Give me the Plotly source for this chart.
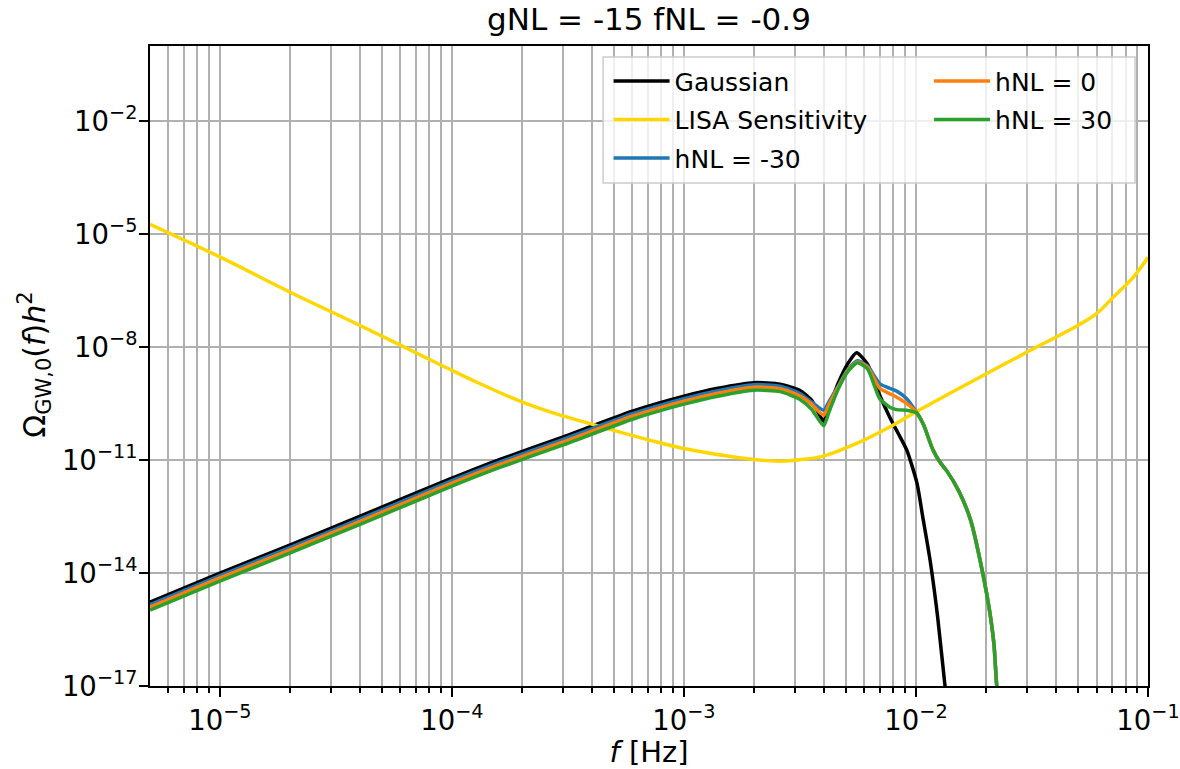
import math
import plotly.graph_objects as go

# ---------------- data ----------------
freq_gauss = [5e-6, 1e-5, 2e-5, 4e-5, 1e-4, 1.6e-4, 3e-4, 6e-4, 1e-3, 1.4e-3,
              2e-3, 2.6e-3, 3.15e-3, 3.55e-3, 4.0e-3, 4.23e-3, 4.62e-3, 5.1e-3,
              5.55e-3, 6.19e-3, 6.98e-3, 7.71e-3, 8.4e-3, 9.13e-3, 1.01e-2,
              1.07e-2, 1.15e-2, 1.24e-2, 1.33e-2, 1.37e-2]
omega_gauss = [1.7e-15, 1.0e-14, 5.5e-14, 3.2e-13, 3.3e-12, 1.03e-11, 4.1e-11,
               2.0e-10, 5.0e-10, 8.1e-10, 1.14e-9, 1.04e-9, 7.2e-10, 3.9e-10,
               1.08e-10, 2.5e-10, 1.1e-9, 3.76e-9, 7.1e-9, 3.5e-9, 5.3e-10,
               1.38e-10, 5.0e-11, 1.84e-11, 2.45e-12, 3.06e-13, 2.21e-14,
               6.8e-16, 1.2e-17, 3e-18]

freq_lisa = [5e-6, 1e-5, 2e-5, 4e-5, 9e-5, 1.33e-4, 2e-4, 2.8e-4, 4e-4, 7.1e-4,
             1e-3, 2e-3, 2.59e-3, 3.16e-3, 4e-3, 5.55e-3, 7.7e-3, 1e-2, 2e-2,
             3e-2, 5e-2, 6e-2, 7.1e-2, 8.65e-2, 1e-1]
omega_lisa = [1.84e-5, 2.5e-6, 2.93e-7, 3.83e-8, 3.32e-9, 1.05e-9, 3.52e-10,
              1.71e-10, 9.0e-11, 3.39e-11, 2.04e-11, 1.04e-11, 9.4e-12, 1.03e-11,
              1.28e-11, 2.77e-11, 7.6e-11, 1.91e-10, 1.94e-9, 7.3e-9, 3.83e-8,
              7.8e-8, 2.16e-7, 7.3e-7, 2.44e-6]

freq_nl = [5e-6, 1e-5, 2e-5, 4e-5, 1e-4, 1.6e-4, 3e-4, 6e-4, 1e-3, 1.4e-3,
           2e-3, 2.6e-3, 3.15e-3, 3.55e-3, 4.0e-3, 4.23e-3, 4.62e-3, 5.1e-3,
           5.6e-3, 6.19e-3, 6.98e-3, 7.71e-3, 8.26e-3, 9.12e-3, 1.01e-2,
           1.08e-2, 1.18e-2, 1.27e-2, 1.36e-2, 1.53e-2, 1.72e-2, 1.94e-2,
           2.08e-2, 2.17e-2, 2.23e-2, 2.28e-2]
omega_hnl_m30 = [1.46e-15, 8.6e-15, 4.75e-14, 2.7e-13, 2.85e-12, 8.8e-12, 3.5e-11,
                 1.71e-10, 4.3e-10, 7.0e-10, 1.01e-9, 9.2e-10, 6.0e-10, 3.5e-10,
                 2.12e-10, 3.7e-10, 9.2e-10, 2.6e-9, 4.37e-9, 3.13e-9, 1.07e-9,
                 8.1e-10, 6.8e-10, 4.3e-10, 1.77e-10, 8.5e-11, 1.95e-11, 8.8e-12,
                 5.1e-12, 1.5e-12, 2.55e-13, 1.0e-14, 9.2e-16, 1.22e-16, 1e-17, 4.3e-18]
omega_hnl_0 = [1.25e-15, 7.4e-15, 4.07e-14, 2.33e-13, 2.45e-12, 7.6e-12, 3.0e-11,
               1.47e-10, 3.7e-10, 6.0e-10, 8.65e-10, 7.9e-10, 5.1e-10, 3.06e-10,
               1.56e-10, 3.06e-10, 8.65e-10, 2.45e-9, 4.06e-9, 2.94e-9, 8.1e-10,
               5.8e-10, 4.7e-10, 3.2e-10, 1.77e-10, 8.5e-11, 1.95e-11, 8.8e-12,
               5.1e-12, 1.5e-12, 2.55e-13, 1.0e-14, 9.2e-16, 1.22e-16, 1e-17, 4.3e-18]
omega_hnl_p30 = [1.04e-15, 6.1e-15, 3.4e-14, 1.94e-13, 2.04e-12, 6.3e-12, 2.5e-11,
                 1.22e-10, 3.06e-10, 5.0e-10, 7.2e-10, 6.6e-10, 4.16e-10, 2.25e-10,
                 8.2e-11, 2.0e-10, 7.65e-10, 2.3e-9, 3.87e-9, 2.6e-9, 4.3e-10,
                 2.55e-10, 2.19e-10, 2.12e-10, 1.77e-10, 8.5e-11, 1.95e-11, 8.8e-12,
                 5.1e-12, 1.5e-12, 2.55e-13, 1.0e-14, 9.2e-16, 1.22e-16, 1e-17, 4.3e-18]

x_tick_exps = [-5, -4, -3, -2, -1]
y_tick_exps = [-17, -14, -11, -8, -5, -2]

FONT = "DejaVu Sans"

# ---------------- figure ----------------
fig = go.Figure()

series = [
    ("Gaussian", freq_gauss, omega_gauss, "#000000", "legend", 0.6),
    ("LISA Sensitivity", freq_lisa, omega_lisa, "#FFD700", "legend", 1.0),
    ("hNL = -30", freq_nl, omega_hnl_m30, "#1f77b4", "legend", 0.6),
    ("hNL = 0", freq_nl, omega_hnl_0, "#ff7f0e", "legend2", 0.6),
    ("hNL = 30", freq_nl, omega_hnl_p30, "#2ca02c", "legend2", 0.6),
]
for name, fx, fy, col, leg, sm in series:
    fig.add_trace(go.Scatter(
        x=fx, y=fy, mode="lines", name=name,
        line=dict(color=col, width=3.5, shape="spline", smoothing=sm),
        legend=leg, legendgroup=name,
    ))

minor_vals = [m * 10.0 ** e for e in range(-6, -1) for m in range(2, 10)]
minor_vals = [v for v in minor_vals if 5e-6 <= v <= 1e-1]

grid_col = "#b0b0b0"
fig.update_layout(
    width=1180, height=769,
    margin=dict(l=150, r=32, t=46, b=83, autoexpand=False),
    paper_bgcolor="white", plot_bgcolor="white",
    font=dict(family=FONT, color="black", size=25),
    title=dict(text="gNL = -15 fNL = -0.9", x=0.5, xref="paper", xanchor="center",
               y=1 - 19 / 769, yref="container", yanchor="middle",
               font=dict(family=FONT, size=31, color="black")),
    xaxis=dict(
        type="log", range=[math.log10(5e-6), -1], automargin=False,
        tickmode="array",
        tickvals=[10.0 ** e for e in x_tick_exps],
        ticktext=["10<sup>\u2212%d</sup>" % (-e) for e in x_tick_exps],
        ticks="outside", ticklen=9, tickwidth=2, tickcolor="black",
        showline=True, linecolor="black", linewidth=2, mirror=True,
        showgrid=True, gridcolor=grid_col, gridwidth=2, zeroline=False,
        minor=dict(tickmode="array", tickvals=minor_vals, ticks="outside",
                   ticklen=5, tickwidth=1.5, tickcolor="black",
                   showgrid=True, gridcolor=grid_col, gridwidth=2),
        tickfont=dict(size=27.5),
        title=dict(text="<i>f</i> [Hz]", font=dict(size=29), standoff=12),
    ),
    yaxis=dict(
        type="log", range=[-17, 0], automargin=False,
        tickmode="array",
        tickvals=[10.0 ** e for e in y_tick_exps],
        ticktext=["10<sup>\u2212%d</sup>" % (-e) for e in y_tick_exps],
        ticks="outside", ticklen=9, tickwidth=2, tickcolor="black",
        ticklabelstandoff=-4,
        showline=True, linecolor="black", linewidth=2, mirror=True,
        showgrid=True, gridcolor=grid_col, gridwidth=2, zeroline=False,
        tickfont=dict(size=27.5),
    ),
    annotations=[dict(
        text="\u03a9<sub>GW,0</sub>(<i>f</i>)<i>h</i><sup>2</sup>",
        xref="paper", yref="paper", x=(35 - 150) / 998, y=0.502,
        xanchor="center", yanchor="middle", textangle=-90, showarrow=False,
        font=dict(family=FONT, size=30, color="black"))],
    legend=dict(x=0.4595, y=0.981, xanchor="left", yanchor="top",
                bgcolor="rgba(0,0,0,0)", borderwidth=0, itemwidth=56,
                font=dict(family=FONT, size=25), tracegroupgap=3,
                traceorder="grouped"),
    legend2=dict(x=0.7806, y=0.981, xanchor="left", yanchor="top",
                 bgcolor="rgba(0,0,0,0)", borderwidth=0, itemwidth=56,
                 font=dict(family=FONT, size=25), tracegroupgap=3,
                 traceorder="grouped"),
    shapes=[dict(type="rect", xref="paper", yref="paper",
                 x0=0.454, x1=0.987, y0=0.786, y1=0.983,
                 line=dict(color="#cccccc", width=1.5),
                 fillcolor="rgba(255,255,255,0.8)", layer="above")],
    showlegend=True,
)

fig.write_html("out.html")
